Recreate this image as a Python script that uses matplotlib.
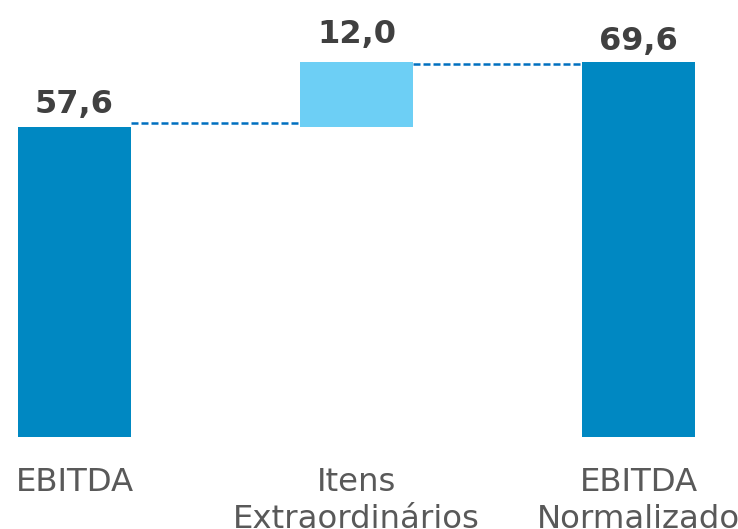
import matplotlib
matplotlib.use("Agg")
import matplotlib.pyplot as plt
from matplotlib.transforms import offset_copy

categories = ["EBITDA", "Itens\nExtraordinários", "EBITDA\nNormalizado"]
values = [57.6, 12.0, 69.6]
value_labels = ["57,6", "12,0", "69,6"]

# waterfall bases computed from values
bases = [0, values[0], 0]
tops = [bases[i] + values[i] for i in range(3)]
colors = ["#0088C2", "#6DCFF5", "#0088C2"]
label_offsets = [14, 19, 12]      # pixels above bar top
connector_shift = [3.4, -2.0]     # pixels, small visual shift of connectors

fig = plt.figure(figsize=(7.38, 5.29), dpi=100)
ax = fig.add_axes([0, 92 / 529, 1, 437 / 529])
x = list(range(len(categories)))
ax.bar(x, values, bottom=bases, width=0.4, color=colors, zorder=2)

# connectors
for i in range(2):
    tr = offset_copy(ax.transData, fig=fig, x=0, y=connector_shift[i], units="dots")
    ax.plot([i + 0.2, i + 0.8], [tops[i], tops[i]], ls=(0, (2.8, 1.2)),
            color="#0070C0", lw=1.8, zorder=1, transform=tr,
            dash_capstyle="butt")

for i in x:
    ax.annotate(value_labels[i], (i, tops[i]), xytext=(0, label_offsets[i] * 0.72),
                textcoords="offset points", ha="center", va="baseline",
                fontsize=23, fontweight="bold", color="#404040")

ax.set_xlim(-0.264, 2.353)
ax.set_ylim(0, 437 / 5.385)
ax.set_xticks(x)
ax.set_xticklabels(categories, fontsize=23.3, color="#595959", linespacing=1.25)
ax.tick_params(axis="x", length=0, pad=21.5)
ax.set_yticks([])
for s in ax.spines.values():
    s.set_visible(False)

fig.savefig("out.png", dpi=100)
